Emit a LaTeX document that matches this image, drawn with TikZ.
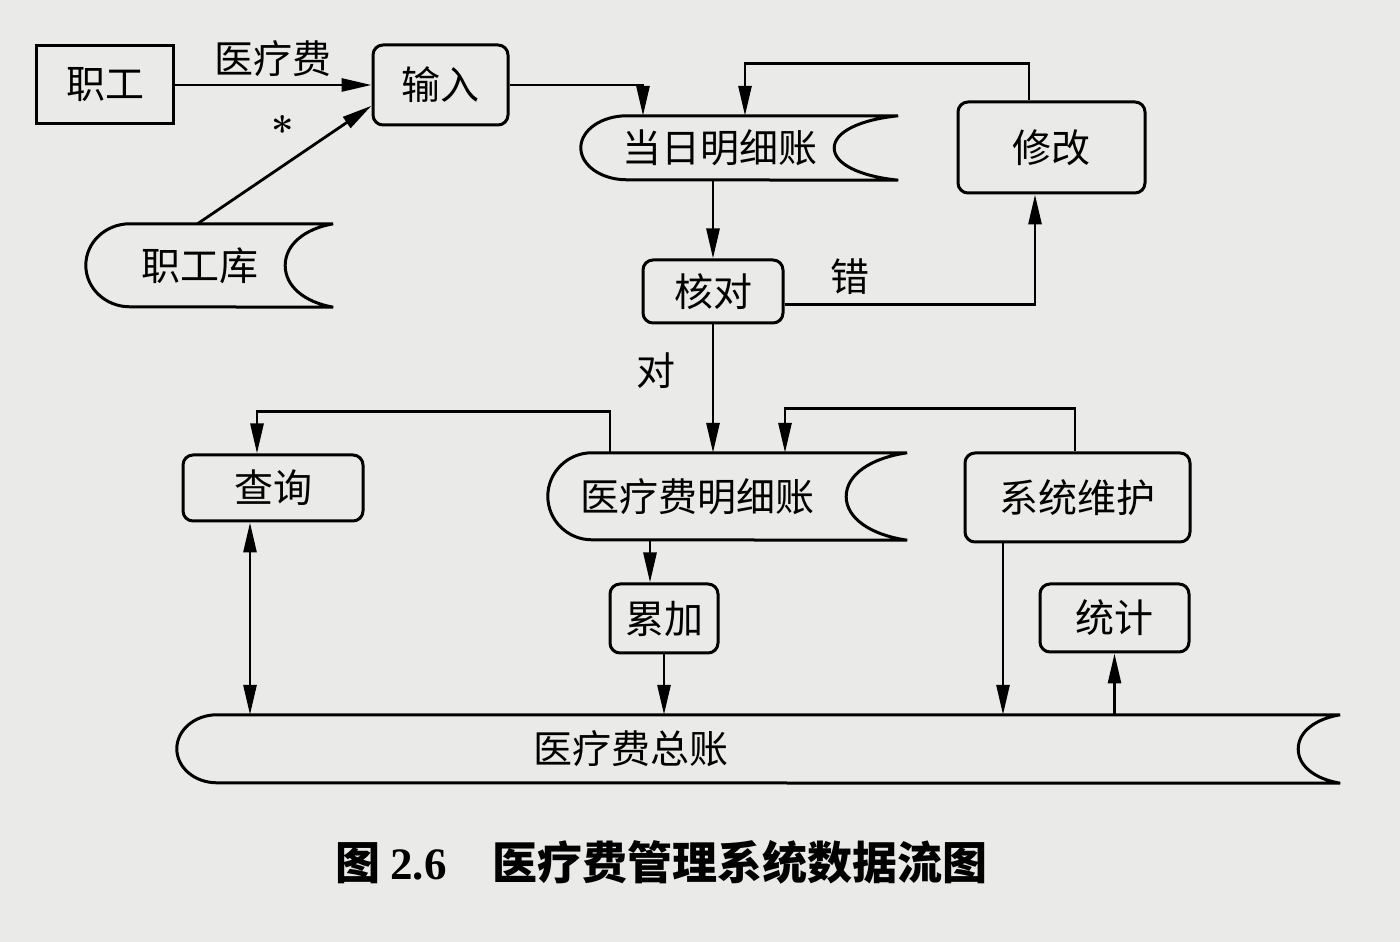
\documentclass[tikz,border=0pt]{standalone}
\usepackage{fontspec}
\newfontfamily\cjk{Noto Sans CJK SC}
\newfontfamily\capnum{Liberation Serif}
\usetikzlibrary{arrows.meta,calc}

\definecolor{paper}{RGB}{234,234,232}
\tikzset{
  lbl/.style={font=\fontsize{39}{44}\selectfont\cjk},
  box/.style={lbl,draw,line width=3pt,inner sep=0pt},
  rbox/.style={box,rounded corners=10pt},
  store/.style={lbl,inner sep=0pt},
  flow/.style={line width=2.8pt},
}
% outline of a data store: node, half height, end radius, notch depth
\newcommand{\storeoutline}[4]{%
  \draw[line width=3pt]
    (#1.north east) -- ([xshift=#3pt]#1.north west)
    arc[start angle=90,end angle=270,x radius=#3,y radius=#2]
    -- (#1.south east)
    .. controls +(-0.6*#4,0.12*#2) and +(0,-0.5*#2) .. ([xshift=-#4pt]#1.east)
    .. controls +(0,0.5*#2) and +(-0.6*#4,-0.12*#2) .. (#1.north east);}

\begin{document}
\begin{tikzpicture}[x=1pt,y=1pt,>={Triangle[length=30pt,width=13pt]}]
  \fill[paper] (0,0) rectangle (1400,942);
  \useasboundingbox (0,0) rectangle (1400,942);

  % processes and sources
  \node[box,minimum width=137pt,minimum height=78pt] (zg) at (105,857) {职工};
  \node[rbox,minimum width=135pt,minimum height=80pt] (sr) at (440.5,857) {输入};
  \node[rbox,minimum width=187pt,minimum height=91pt] (xg) at (1051.5,794.5) {修改};
  \node[rbox,minimum width=140pt,minimum height=63pt] (hd) at (713,650.5) {核对};
  \node[rbox,minimum width=180pt,minimum height=66pt] (cx) at (273,454) {查询};
  \node[rbox,minimum width=225pt,minimum height=89pt] (xtwh) at (1077.5,444.5) {系统维护};
  \node[rbox,minimum width=108pt,minimum height=69pt] (lj) at (664,323.5) {累加};
  \node[rbox,minimum width=149pt,minimum height=68pt] (tj) at (1114.5,324) {统计};

  % data stores
  \node[store,minimum width=247pt,minimum height=83pt,
        label={[lbl,xshift=-10pt]center:职工库}] (zgk) at (209.5,676.5) {};
  \node[store,minimum width=317pt,minimum height=64pt,
        label={[lbl,xshift=-20pt]center:当日明细账}] (drmx) at (739.5,794) {};
  \node[store,minimum width=359pt,minimum height=87pt,
        label={[lbl,xshift=-30pt]center:医疗费明细账}] (ylmx) at (727.5,445.5) {};
  \node[store,minimum width=1163pt,minimum height=68pt,
        label={[lbl,xshift=-128pt]center:医疗费总账}] (zz) at (758.5,193) {};
  \storeoutline{zgk}{41.5}{44}{48}
  \storeoutline{drmx}{32}{46}{64}
  \storeoutline{ylmx}{43.5}{44}{61}
  \storeoutline{zz}{34}{40}{42}

  % flows
  \draw[flow,->] (zg.east) -- (sr.west) node[midway,above=4pt,lbl] {医疗费};
  \draw[flow,->] ([xshift=-12pt]zgk.north) -- ($(sr.west)!0.5!(sr.south west)$)
    node[pos=0.49,yshift=35pt,font=\fontsize{40}{40}\selectfont\bfseries] {*};
  \draw[flow,->] (sr.east) -| ([xshift=-96.5pt]drmx.north);
  \draw[flow,->] ([xshift=-22.5pt]xg.north) -- ++(0,37) -| ([xshift=5.5pt]drmx.north);
  \draw[flow,->] (hd.north |- drmx.south) -- (hd.north);
  \draw[flow,->] ([yshift=-13pt]hd.east) -| ([xshift=-16.5pt]xg.south)
    node[pos=0.13,above=5pt,lbl] {错};
  \draw[flow,->] (hd.south) -- (hd.south |- ylmx.north)
    node[pos=0.36,left=33pt,lbl] {对};
  \draw[flow,->] ([xshift=-117.5pt]ylmx.north) -- ++(0,41) -| ([xshift=-16pt]cx.north);
  \draw[flow,->] ([xshift=-2.5pt]xtwh.north) -- ++(0,43) -| ([xshift=57.5pt]ylmx.north);
  \draw[flow,->] ([xshift=-77.5pt]ylmx.south) -- ([xshift=-14pt]lj.north);
  \draw[flow,->] (lj.south) -- (lj.south |- zz.north);
  \coordinate (cxfoot) at ([xshift=-23pt]cx.south);
  \draw[flow,<->] (cxfoot) -- (cxfoot |- zz.north);
  \coordinate (whfoot) at ([xshift=-74.5pt]xtwh.south);
  \draw[flow,->] (whfoot) -- (whfoot |- zz.north);
  \draw[flow,->] (tj.south |- zz.north) -- (tj.south);

  \node[font=\fontsize{45}{50}\selectfont\cjk\bfseries] (cap) at (661.5,80)
    {图\hspace{10pt}{\capnum\bfseries 2.6}\hspace{46pt}医疗费管理系统数据流图};
\end{tikzpicture}
\end{document}
